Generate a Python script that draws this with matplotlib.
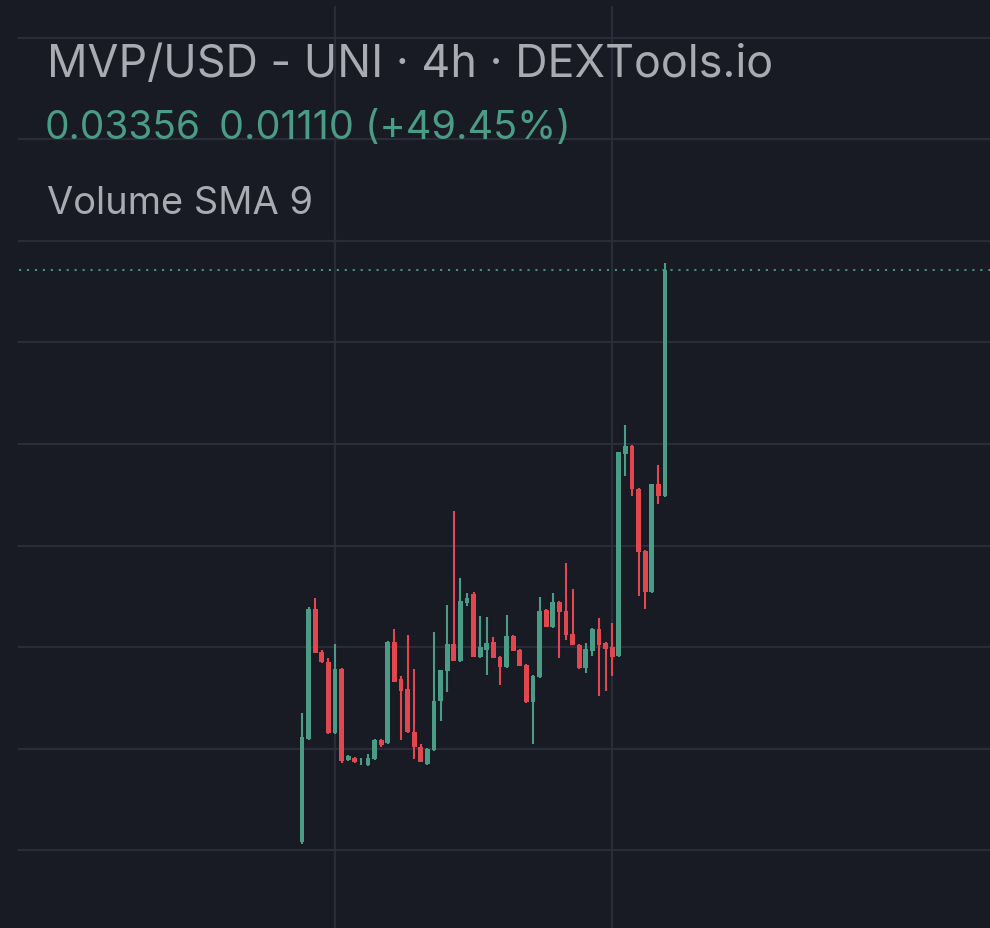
import numpy as np
import matplotlib
matplotlib.use("Agg")
import matplotlib.pyplot as plt

# 4h candles
opens = [0.00542, 0.01049, 0.01688, 0.01477, 0.01427, 0.01078, 0.01393, 0.00945,
         0.00955, 0.00938, 0.00921, 0.00950, 0.01044, 0.01029, 0.01526, 0.01344,
         0.01295, 0.01083, 0.01009, 0.00926, 0.00994, 0.01236, 0.01383, 0.01516,
         0.01432, 0.01718, 0.01762, 0.01452, 0.01486, 0.01526, 0.01452, 0.01403,
         0.01555, 0.01486, 0.01413, 0.01231, 0.01354, 0.01683, 0.01600, 0.01723,
         0.01678, 0.01565, 0.01511, 0.01398, 0.01482, 0.01590, 0.01521, 0.01501,
         0.01457, 0.02451, 0.02490, 0.02279, 0.01974, 0.01772, 0.02303, 0.02246]
highs = [0.01176, 0.01698, 0.01742, 0.01486, 0.01447, 0.01516, 0.01398, 0.00970,
         0.00960, 0.00955, 0.00975, 0.01049, 0.01049, 0.01531, 0.01590, 0.01359,
         0.01560, 0.01393, 0.01024, 0.01004, 0.01575, 0.01388, 0.01708, 0.02170,
         0.01841, 0.01767, 0.01772, 0.01654, 0.01649, 0.01550, 0.01457, 0.01659,
         0.01560, 0.01491, 0.01418, 0.01363, 0.01747, 0.01688, 0.01767, 0.01728,
         0.01915, 0.01787, 0.01516, 0.01521, 0.01595, 0.01644, 0.01526, 0.01619,
         0.02461, 0.02593, 0.02495, 0.02284, 0.01978, 0.02303, 0.02397, 0.03390]
lows = [0.00532, 0.01044, 0.01472, 0.01423, 0.01073, 0.01073, 0.00931, 0.00940,
        0.00931, 0.00921, 0.00916, 0.00945, 0.01009, 0.01024, 0.01329, 0.01044,
        0.01078, 0.00950, 0.00936, 0.00921, 0.00989, 0.01137, 0.01280, 0.01432,
        0.01427, 0.01703, 0.01452, 0.01447, 0.01363, 0.01447, 0.01314, 0.01398,
        0.01482, 0.01408, 0.01226, 0.01024, 0.01349, 0.01600, 0.01595, 0.01447,
        0.01536, 0.01511, 0.01393, 0.01373, 0.01457, 0.01260, 0.01285, 0.01359,
        0.01452, 0.02343, 0.02244, 0.01752, 0.01688, 0.01767, 0.02205, 0.02240]
closes = [0.01058, 0.01688, 0.01472, 0.01427, 0.01078, 0.01393, 0.00940, 0.00965,
          0.00936, 0.00940, 0.00955, 0.01044, 0.01019, 0.01526, 0.01329, 0.01285,
          0.01083, 0.01009, 0.00936, 0.00999, 0.01236, 0.01388, 0.01516, 0.01432,
          0.01728, 0.01742, 0.01452, 0.01501, 0.01521, 0.01447, 0.01403, 0.01555,
          0.01482, 0.01408, 0.01231, 0.01359, 0.01678, 0.01600, 0.01723, 0.01673,
          0.01560, 0.01511, 0.01398, 0.01491, 0.01590, 0.01511, 0.01491, 0.01452,
          0.02461, 0.02490, 0.02279, 0.01969, 0.01772, 0.02303, 0.02244, 0.03356]

last_price = "0.03356"
change = "0.01110 (+49.45%)"
title = "MVP/USD - UNI · 4h · DEXTools.io"
indicator = "Volume SMA 9"
price_grid = [0.005, 0.010, 0.015, 0.020, 0.025, 0.030, 0.035, 0.040, 0.045]
time_grid = [5, 47]  # candle index of the day separators

BG = "#181a24"
GRID = "#2a2c37"
UP = "#4b9c86"
DOWN = "#e2474f"
TXT = "#a9abb3"

W, H = 990, 929
fig = plt.figure(figsize=(W / 100, H / 100), dpi=100, facecolor=BG)
ax = fig.add_axes([0, 0, 1, 1], facecolor=BG)

step = 6.6   # px per candle
x0 = 302     # px of first candle
ax.set_xlim(-x0 / step, (W - x0) / step)
ppx = 0.005 / 101.6
ax.set_ylim(0.025 - (H - 445) * ppx, 0.025 + 445 * ppx)
ax.axis("off")

# grid
for p in price_grid:
    ax.axhline(p, xmin=19 / W, xmax=1, color=GRID, lw=1.6, zorder=0)
for t in time_grid:
    ax.axvline(t, ymin=0, ymax=(H - 8) / H, color=GRID, lw=1.6, zorder=0)

o = np.array(opens)
h = np.array(highs)
l = np.array(lows)
c = np.array(closes)
x = np.arange(len(o))
cols = np.where(c >= o, UP, DOWN)

ax.vlines(x, l, h, colors=cols, lw=1.5, zorder=2)
bottom = np.minimum(o, c)
height = np.maximum(np.abs(c - o), 0.00004)
ax.bar(x, height, bottom=bottom, width=0.74, color=cols, zorder=3)

# last price line
ax.axhline(c[-1], xmin=19 / W, xmax=1, color=UP, lw=1.3, ls=(0, (1.2, 3.2)), zorder=1)

# header text
fam = ["Inter", "DejaVu Sans"]
fig.text(47 / W, 1 - 77 / H, title, color=TXT, fontsize=32.3, family=fam, va="baseline")
fig.text(45 / W, 1 - 139 / H, last_price, color=UP, fontsize=28, family=fam, va="baseline")
fig.text(219 / W, 1 - 139 / H, change, color=UP, fontsize=28.6, family=fam, va="baseline")
fig.text(47 / W, 1 - 214 / H, indicator, color=TXT, fontsize=27.4, family=fam, va="baseline")

fig.savefig("out.png", dpi=100, facecolor=BG)
